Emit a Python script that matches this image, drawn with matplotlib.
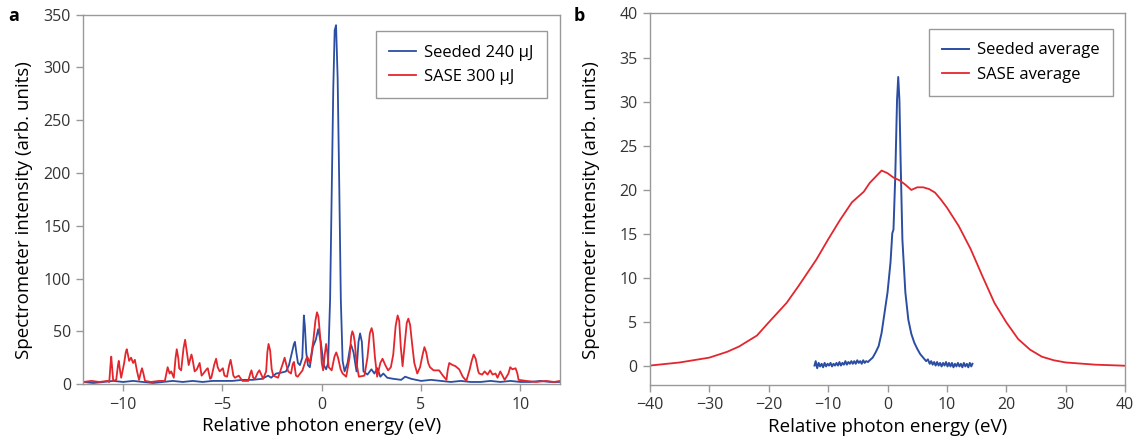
import matplotlib
matplotlib.use('Agg')
import numpy as np
import matplotlib.pyplot as plt

plt.rcParams['font.family'] = ['Open Sans', 'DejaVu Sans']

## Panel a: single shots (energy in eV, intensity in arb. units) ##

sase_a = [(-12.0, 2), (-11.6, 3), (-11.2, 2), (-10.8, 3), (-10.7, 2), (-10.63, 20), (-10.6, 26),
          (-10.55, 15), (-10.5, 3), (-10.35, 4), (-10.26, 18), (-10.22, 22), (-10.15, 12),
          (-10.1, 6), (-9.95, 20), (-9.87, 30), (-9.82, 33), (-9.76, 28), (-9.7, 22), (-9.6, 25),
          (-9.5, 20), (-9.41, 23), (-9.3, 12), (-9.2, 4), (-9.1, 12), (-9.05, 15), (-8.98, 10),
          (-8.9, 3), (-8.6, 2), (-8.2, 3), (-7.9, 3), (-7.76, 16), (-7.66, 10), (-7.58, 12),
          (-7.45, 6), (-7.36, 25), (-7.3, 33), (-7.22, 24), (-7.18, 15), (-7.08, 13), (-6.96, 34),
          (-6.88, 42), (-6.82, 34), (-6.7, 18), (-6.62, 24), (-6.56, 28), (-6.51, 24), (-6.4, 12),
          (-6.29, 14), (-6.2, 18), (-6.15, 20), (-6.05, 8), (-5.96, 10), (-5.8, 14), (-5.74, 15),
          (-5.62, 5), (-5.56, 6), (-5.42, 18), (-5.32, 24), (-5.24, 16), (-5.14, 12), (-4.98, 15),
          (-4.9, 8), (-4.77, 7), (-4.66, 18), (-4.59, 23), (-4.52, 16), (-4.45, 8), (-4.37, 6),
          (-4.18, 8), (-4.0, 3), (-3.7, 3), (-3.6, 10), (-3.54, 13), (-3.45, 6), (-3.36, 5),
          (-3.22, 11), (-3.14, 13), (-2.95, 5), (-2.8, 12), (-2.74, 30), (-2.68, 38), (-2.6, 32),
          (-2.52, 14), (-2.44, 8), (-2.2, 6), (-1.95, 20), (-1.87, 25), (-1.78, 18), (-1.69, 12),
          (-1.55, 10), (-1.46, 19), (-1.4, 21), (-1.3, 8), (-1.21, 7), (-0.97, 13), (-0.8, 23),
          (-0.73, 26), (-0.6, 20), (-0.51, 30), (-0.42, 42), (-0.32, 60), (-0.24, 68),
          (-0.17, 64), (-0.08, 45), (0.0, 20), (0.07, 13), (0.15, 28), (0.22, 38), (0.28, 30),
          (0.35, 16), (0.5, 13), (0.64, 26), (0.73, 30), (0.82, 25), (0.95, 14), (1.05, 10),
          (1.23, 7), (1.4, 25), (1.48, 45), (1.54, 50), (1.6, 47), (1.66, 40), (1.75, 20),
          (1.87, 7), (2.15, 8), (2.3, 25), (2.42, 48), (2.51, 53), (2.58, 48), (2.68, 25),
          (2.79, 7), (2.95, 20), (3.06, 24), (3.2, 18), (3.34, 13), (3.48, 16), (3.6, 28),
          (3.72, 55), (3.82, 65), (3.9, 60), (3.98, 35), (4.07, 17), (4.18, 38), (4.28, 58),
          (4.36, 62), (4.45, 56), (4.55, 38), (4.66, 20), (4.81, 10), (4.95, 16), (5.08, 28),
          (5.17, 35), (5.26, 30), (5.36, 20), (5.45, 16), (5.63, 13), (5.91, 13), (6.1, 8),
          (6.28, 4), (6.35, 14), (6.42, 20), (6.5, 19), (6.6, 18), (6.73, 17), (6.92, 14),
          (7.1, 7), (7.28, 3), (7.45, 14), (7.55, 22), (7.65, 28), (7.75, 24), (7.88, 12),
          (7.93, 10), (8.08, 9), (8.2, 12), (8.35, 9), (8.48, 13), (8.6, 9), (8.75, 10),
          (8.85, 6), (8.99, 12), (9.1, 8), (9.21, 4), (9.4, 10), (9.49, 16), (9.6, 14),
          (9.76, 15), (9.85, 10), (9.91, 4), (10.3, 3), (10.8, 2), (11.3, 3), (11.7, 2), (12.0, 3)]

seeded_a = [(-12, 2), (-11.5, 1), (-11, 2), (-10.5, 3), (-10, 2), (-9.5, 3), (-9, 2), (-8.5, 1),
            (-8, 2), (-7.5, 3), (-7, 2), (-6.5, 3), (-6, 2), (-5.5, 3), (-5, 3), (-4.5, 3),
            (-4, 4), (-3.5, 4), (-3, 5), (-2.7, 8), (-2.55, 6), (-2.3, 10), (-2.0, 11), (-1.8, 12),
            (-1.65, 18), (-1.5, 30), (-1.4, 38), (-1.35, 40), (-1.28, 30), (-1.2, 20), (-1.1, 18),
            (-0.98, 25), (-0.93, 50), (-0.9, 65), (-0.85, 55), (-0.78, 30), (-0.7, 18),
            (-0.6, 16), (-0.45, 35), (-0.3, 42), (-0.18, 52), (-0.05, 40), (0.1, 18), (0.22, 14),
            (0.32, 20), (0.42, 80), (0.5, 180), (0.58, 280), (0.65, 335), (0.72, 340), (0.8, 290),
            (0.88, 190), (0.96, 80), (1.05, 22), (1.15, 12), (1.3, 20), (1.42, 34), (1.48, 37),
            (1.6, 30), (1.75, 12), (1.85, 40), (1.93, 48), (2.02, 40), (2.1, 12), (2.3, 9),
            (2.5, 14), (2.65, 10), (2.8, 15), (2.95, 7), (3.1, 10), (3.3, 6), (3.6, 5), (4.0, 4),
            (4.2, 7), (4.5, 5), (5, 3), (5.5, 4), (6, 3), (6.5, 2), (7, 3), (7.5, 2), (8, 2),
            (8.5, 3), (9, 2), (9.5, 3), (10, 2), (10.5, 2), (11, 3), (11.5, 2), (12, 2)]

## Panel b: averages ##

sase_b = [(-40, 0.1), (-35, 0.45), (-30, 1.0), (-27, 1.66), (-25, 2.26), (-22, 3.5), (-20, 5.0),
          (-17, 7.2), (-15, 9.1), (-12, 12.1), (-10, 14.4), (-8, 16.6), (-6, 18.6), (-4, 19.8),
          (-3, 20.8), (-2, 21.5), (-1, 22.2), (0, 21.9), (1, 21.4), (2, 21.1), (3, 20.6),
          (4, 20.0), (5, 20.3), (6, 20.3), (7, 20.1), (8, 19.7), (9, 18.9), (10, 18.0),
          (12, 15.9), (14, 13.3), (16, 10.2), (18, 7.2), (20, 5.0), (22, 3.1), (24, 1.9),
          (26, 1.1), (28, 0.7), (30, 0.45), (35, 0.2), (40, 0.08)]

seeded_b = [(-12.3, 0.1), (-12.1, 0.6), (-11.85, -0.2), (-11.6, 0.4), (-11.35, 0.0), (-11.1, 0.3),
            (-10.85, -0.1), (-10.6, 0.4), (-10.35, 0.0), (-10.1, 0.3), (-9.85, 0.1), (-9.6, 0.4),
            (-9.35, 0.0), (-9.1, 0.3), (-8.85, 0.1), (-8.6, 0.4), (-8.35, 0.1), (-8.1, 0.5),
            (-7.85, 0.1), (-7.6, 0.4), (-7.35, 0.2), (-7.1, 0.6), (-6.85, 0.2), (-6.6, 0.5),
            (-6.35, 0.3), (-6.1, 0.6), (-5.85, 0.3), (-5.6, 0.6), (-5.35, 0.3), (-5.1, 0.7),
            (-4.85, 0.4), (-4.6, 0.6), (-4.35, 0.3), (-4.1, 0.7), (-3.85, 0.4), (-3.6, 0.6),
            (-3.3, 0.5), (-3.0, 0.7), (-2.5, 1.0), (-2.0, 1.6), (-1.5, 2.3), (-1.0, 3.8),
            (-0.5, 6.1), (0.0, 8.4), (0.5, 11.8), (0.8, 15.1), (1.0, 15.5), (1.3, 21.5),
            (1.6, 30.2), (1.8, 32.8), (2.0, 30.2), (2.2, 23.4), (2.5, 14.4), (3.0, 8.4),
            (3.5, 5.3), (4.0, 3.7), (4.5, 2.7), (5.0, 2.0), (5.5, 1.4), (6.0, 1.0), (6.5, 0.6),
            (6.8, 0.8), (7.1, 0.3), (7.35, 0.6), (7.6, 0.2), (7.85, 0.5), (8.1, 0.1), (8.35, 0.5),
            (8.6, 0.1), (8.85, 0.4), (9.1, 0.0), (9.35, 0.4), (9.6, 0.1), (9.85, 0.5), (10.1, 0.0),
            (10.35, 0.4), (10.6, 0.0), (10.85, 0.4), (11.1, -0.1), (11.35, 0.3), (11.6, 0.0),
            (11.85, 0.4), (12.1, 0.0), (12.35, 0.3), (12.6, -0.1), (12.85, 0.4), (13.1, 0.0),
            (13.35, 0.3), (13.6, -0.1), (13.85, 0.4), (14.1, 0.0), (14.3, 0.3)]

BLUE = '#2b4ea2'
RED = '#e3262d'
GREY = '#999999'
TXT = '#333333'


def style(ax):
    for s in ax.spines.values():
        s.set_color(GREY)
        s.set_linewidth(1.0)
    ax.tick_params(direction='out', length=5, width=1, color=GREY,
                   labelsize=11.5, labelcolor=TXT, pad=4)
    ax.set_xlabel('Relative photon energy (eV)', fontsize=13.5, color='black', labelpad=3)
    ax.set_ylabel('Spectrometer intensity (arb. units)', fontsize=13.5, color='black',
                  labelpad=6)
    ax.yaxis.set_label_coords(-0.105, 0.47)


def add_legend(ax, anchor):
    leg = ax.legend(loc='upper right', bbox_to_anchor=anchor, borderaxespad=0,
                    fontsize=12, fancybox=False, framealpha=1, edgecolor=GREY,
                    handlelength=1.6, handletextpad=0.5, borderpad=0.8, labelspacing=0.5)
    leg.get_frame().set_linewidth(1.0)


fig = plt.figure(figsize=(11.43, 4.43), dpi=100)

ax1 = fig.add_axes([0.073, 0.133, 0.417, 0.834])
x, y = zip(*seeded_a)
ax1.plot(x, y, color=BLUE, lw=1.3, label='Seeded 240 μJ')
x, y = zip(*sase_a)
ax1.plot(x, y, color=RED, lw=1.3, label='SASE 300 μJ')
ax1.set_xlim(-12, 12)
ax1.set_ylim(0, 350)
ax1.set_xticks([-10, -5, 0, 5, 10])
ax1.set_yticks(np.arange(0, 351, 50))
style(ax1)
add_legend(ax1, (0.973, 0.955))

ax2 = fig.add_axes([0.5687, 0.131, 0.4156, 0.8386])
x, y = zip(*seeded_b)
ax2.plot(x, y, color=BLUE, lw=1.4, label='Seeded average')
x, y = zip(*sase_b)
ax2.plot(x, y, color=RED, lw=1.3, label='SASE average')
ax2.set_xlim(-40, 40)
ax2.set_ylim(-2.1, 40)
ax2.set_xticks(np.arange(-40, 41, 10))
ax2.set_yticks(np.arange(0, 41, 5))
style(ax2)
add_legend(ax2, (0.975, 0.958))

fig.text(0.007, 0.985, 'a', fontsize=13, fontweight='bold', va='top')
fig.text(0.502, 0.985, 'b', fontsize=13, fontweight='bold', va='top')

fig.savefig('out.png', dpi=100)
